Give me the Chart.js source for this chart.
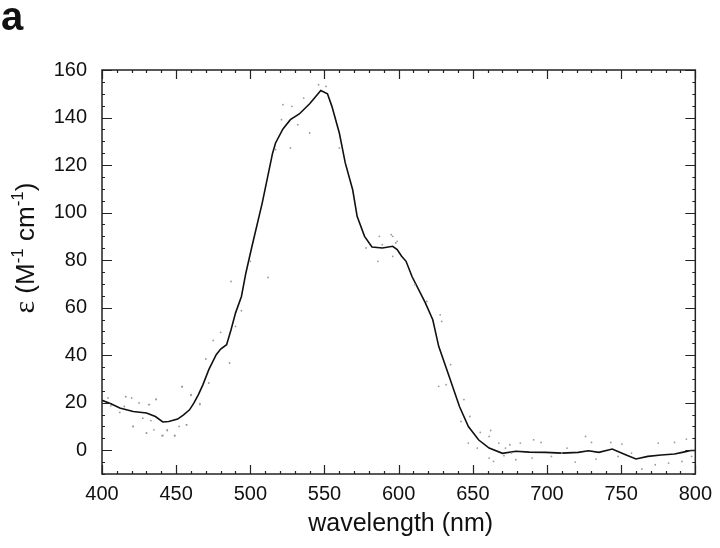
<!DOCTYPE html>
<html>
<head>
<meta charset="utf-8">
<script src="https://cdn.jsdelivr.net/npm/chart.js@4/dist/chart.umd.min.js"></script>
<style>
  html, body { margin: 0; padding: 0; background: #fff; }
  canvas { display: block; }
</style>
</head>
<body>
<canvas id="spectrum" width="720" height="548"></canvas>
<script>
// smoothed absorption curve
var wavelength = [400, 406, 412, 421, 430, 436, 441, 445, 451, 455, 459, 462, 465, 468, 472, 477, 480, 484, 487, 490,
  494, 497, 501, 508, 515, 517, 522, 527, 533, 540, 547.5, 552, 555, 560, 564, 569, 572, 577, 582, 589,
  596, 599, 602, 605, 609, 618, 623, 627, 634, 641, 647, 654, 661, 670, 679, 688, 699, 710, 721, 728,
  735, 744, 753, 760, 768, 777, 786, 792, 797, 800];
var epsilon = [21.0, 19.6, 17.8, 16.3, 15.7, 14.2, 11.9, 12.1, 13.1, 14.9, 17.0, 19.9, 23.4, 27.5, 33.9, 40.2, 42.6, 44.4, 50.7, 57.7,
  64.7, 74.6, 85.5, 104, 125, 129.3, 135.2, 139.1, 141.5, 145.8, 151.4, 150, 144.7, 133.5, 120.9, 109.6, 98.4, 90, 85.5, 85.1,
  85.8, 84.4, 81.6, 79.5, 73.1, 62, 54.9, 43.7, 31.1, 18.4, 10, 4.3, 0.9, -1.3, -0.4, -0.8, -0.9, -1.2, -0.9, -0.2,
  -0.9, 0.5, -1.9, -3.7, -2.6, -2.0, -1.6, -0.8, -0.1, -0.1];

// raw measured points (faint dots)
var dotWavelength = [404, 416, 406, 412, 425, 431.5, 436.5, 421, 427.5, 433, 430, 435, 440.5, 444, 449, 452, 457, 454, 460, 466,
  472, 416, 420, 436.5, 432, 454, 460, 466, 470, 475, 480, 487, 486, 490, 494, 500, 512, 415, 421, 430,
  441, 449, 457, 444, 546, 551, 522, 528, 536, 521, 540, 527, 517, 560, 532, 578, 587, 596, 586, 598,
  589, 595, 599, 596, 611, 619, 628, 629, 635, 627, 632, 644, 642, 648, 647, 653, 661, 661, 672, 676,
  655, 662, 667.5, 675, 682, 691, 696, 713.5, 726, 730, 743, 750.5, 775, 786, 794, 664, 679, 690, 703, 719,
  733, 748, 764, 773, 782, 791, 671, 710, 757, 797.5];
var dotEpsilon = [22.0, 22.6, 18.7, 15.9, 19.9, 19.2, 21.5, 10.0, 13.5, 12.5, 7.2, 8.6, 6.1, 8.3, 6.1, 10.0, 10.7, 26.9, 23.4, 19.2,
  28.3, 22.6, 22.0, 21.3, 19.2, 26.6, 23.1, 19.6, 38.4, 46.2, 49.6, 71.0, 36.7, 52.1, 58.7, 79.5, 72.7, 18.4, 10, 7.2,
  6.2, 6.2, 10.7, 8.6, 153.8, 153.1, 145.4, 144.7, 148.2, 139.1, 133.5, 127.2, 126.5, 127.2, 137, 85.1, 90, 90, 79.5, 87.2,
  86.5, 90.7, 87.9, 81.6, 69.7, 62.6, 57.0, 54.2, 36.0, 26.9, 27.6, 21.3, 12.1, 14.2, 3.0, 0.9, 5.8, -3.3, 0.9, -1.2,
  7.5, 8.3, 3.0, 2.3, 3.0, 4.4, 3.3, 0.9, 5.8, 3.3, 3.3, 2.6, 3.0, 3.3, 4.7, -4.7, -4.0, -3.3, -2.6, -5.0,
  -3.7, -2.6, -7.9, -6.1, -5.4, -4.7, -2.3, -1.2, -1.2, -2.6];

var xTicks = [400, 450, 500, 550, 600, 650, 700, 750, 800];
var yTicks = [0, 20, 40, 60, 80, 100, 120, 140, 160];

var FONT = "'Liberation Sans', Arial, Helvetica, sans-serif";

// frame with inward major/minor ticks, axis titles and panel letter
var framePlugin = {
  id: 'framePlugin',
  afterDraw: function (chart) {
    var ctx = chart.ctx, a = chart.chartArea, x = chart.scales.x, y = chart.scales.y;
    ctx.save();
    ctx.strokeStyle = '#222';
    ctx.lineWidth = 1.5;
    ctx.strokeRect(a.left, a.top, a.right - a.left, a.bottom - a.top);

    ctx.lineWidth = 1.2;
    ctx.beginPath();
    for (var v = x.min; v <= x.max; v += 10) {
      var px = Math.round(x.getPixelForValue(v)) + 0.5;
      var len = (v % 50 === 0) ? 9 : 3;
      ctx.moveTo(px, a.bottom); ctx.lineTo(px, a.bottom - len);
      ctx.moveTo(px, a.top); ctx.lineTo(px, a.top + len);
    }
    for (var w = y.min; w <= y.max; w += 5) {
      var py = Math.round(y.getPixelForValue(w)) + 0.5;
      var l2 = (w % 20 === 0) ? 10 : 3;
      ctx.moveTo(a.left, py); ctx.lineTo(a.left + l2, py);
      ctx.moveTo(a.right, py); ctx.lineTo(a.right - l2, py);
    }
    ctx.stroke();

    ctx.fillStyle = '#111';
    // panel letter
    ctx.font = 'bold 40px ' + FONT;
    ctx.textBaseline = 'alphabetic';
    ctx.textAlign = 'left';
    ctx.fillText('a', 1, 30);

    // x title
    ctx.font = '25px ' + FONT;
    ctx.textAlign = 'center';
    ctx.fillText('wavelength (nm)', (a.left + a.right) / 2 + 2, 531);

    // y title with superscripts
    var main = '26px ' + FONT, sup = '17px ' + FONT, eps = '30px "Liberation Serif", serif';
    var parts = [
      { t: '\u03b5', f: eps, dy: 0 },
      { t: ' (M', f: main, dy: 0 },
      { t: '-1', f: sup, dy: -11 },
      { t: ' cm', f: main, dy: 0 },
      { t: '-1', f: sup, dy: -11 },
      { t: ')', f: main, dy: 0 }
    ];
    var total = 0;
    parts.forEach(function (p) { ctx.font = p.f; p.w = ctx.measureText(p.t).width; total += p.w; });
    ctx.translate(34, 248);
    ctx.rotate(-Math.PI / 2);
    ctx.textAlign = 'left';
    var cx = -total / 2;
    parts.forEach(function (p) { ctx.font = p.f; ctx.fillText(p.t, cx, p.dy); cx += p.w; });
    ctx.restore();
  }
};

var linePoints = wavelength.map(function (v, i) { return { x: v, y: epsilon[i] }; });
var dotPoints = dotWavelength.map(function (v, i) { return { x: v, y: dotEpsilon[i] }; });

new Chart(document.getElementById('spectrum'), {
  type: 'scatter',
  data: {
    datasets: [
      {
        label: 'measured',
        data: dotPoints,
        pointRadius: 0.9,
        pointBackgroundColor: '#9a9a9a',
        pointBorderWidth: 0,
        showLine: false
      },
      {
        label: 'smoothed',
        data: linePoints,
        showLine: true,
        borderColor: '#111',
        borderWidth: 1.6,
        pointRadius: 0,
        tension: 0
      }
    ]
  },
  options: {
    responsive: false,
    animation: false,
    devicePixelRatio: 1,
    layout: { padding: { top: 70, right: 21, left: 0, bottom: 0 } },
    plugins: { legend: { display: false }, tooltip: { enabled: false } },
    scales: {
      x: {
        type: 'linear', min: 400, max: 800,
        afterBuildTicks: function (s) { s.ticks = xTicks.map(function (v) { return { value: v }; }); },
        afterFit: function (s) { s.height = 74; },
        grid: { display: false, drawTicks: false },
        border: { display: false },
        ticks: { color: '#111', padding: 8, maxRotation: 0, autoSkip: false, font: { family: FONT, size: 20 } }
      },
      y: {
        type: 'linear', min: -10, max: 160,
        afterBuildTicks: function (s) { s.ticks = yTicks.map(function (v) { return { value: v }; }); },
        afterFit: function (s) { s.width = 102; },
        grid: { display: false, drawTicks: false },
        border: { display: false },
        ticks: { color: '#111', padding: 15, autoSkip: false, font: { family: FONT, size: 20 } }
      }
    }
  },
  plugins: [framePlugin]
});
</script>
</body>
</html>
